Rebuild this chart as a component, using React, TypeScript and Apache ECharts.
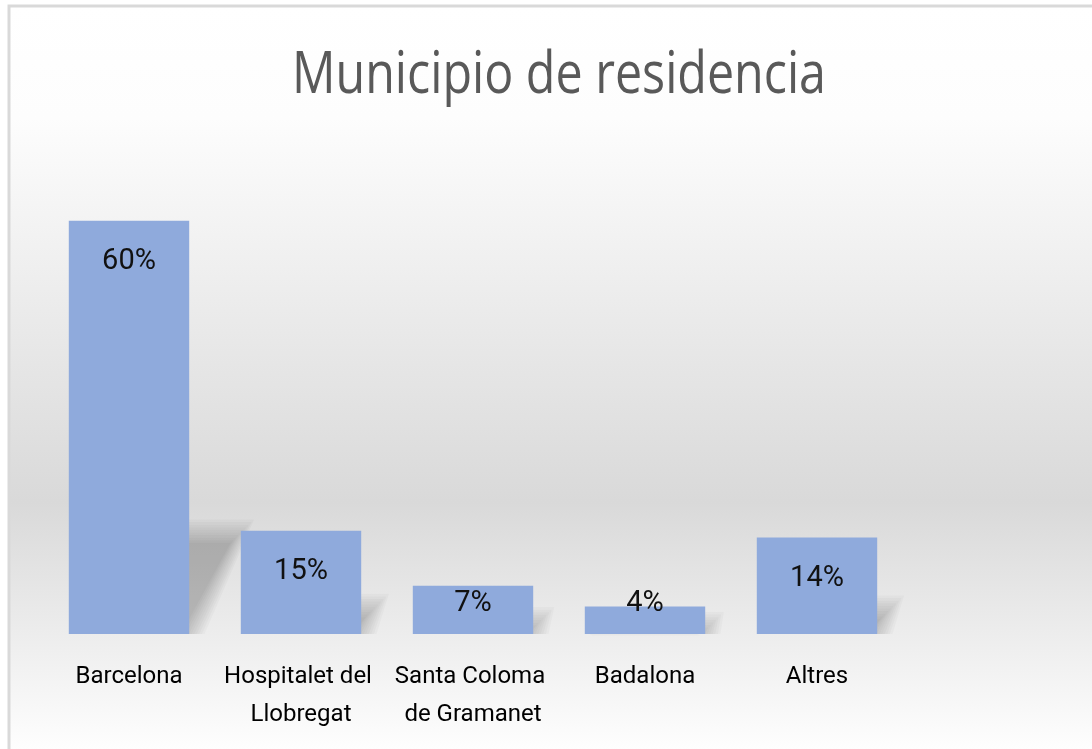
import React, { useEffect, useRef } from "react";
import * as echarts from "echarts";

const titleText = "Municipio de residencia";
const categories = [
  "Barcelona",
  "Hospitalet del Llobregat",
  "Santa Coloma de Gramanet",
  "Badalona",
  "Altres",
];
const values = [60, 15, 7, 4, 14];
const yMax = 70;

export default function App() {
  const ref = useRef<HTMLDivElement>(null);

  useEffect(() => {
    if (!ref.current) return;
    const chart = echarts.init(ref.current, null, { renderer: "svg" });

    const titleSize = 58;
    const titleFamily = '"Open Sans", "Noto Sans", sans-serif';
    let scaleX = 1;
    try {
      const ctx = document.createElement("canvas").getContext("2d");
      if (ctx) {
        ctx.font = `${titleSize}px ${titleFamily}`;
        const w = ctx.measureText(titleText).width;
        if (w > 0) scaleX = 534 / w;
      }
    } catch (e) {}

    const bg = new echarts.graphic.LinearGradient(0, 0, 0, 1, [
      { offset: 0, color: "#ffffff" },
      { offset: 0.14, color: "#fdfdfd" },
      { offset: 0.62, color: "#d9d9d9" },
      { offset: 0.93, color: "#fefefe" },
      { offset: 1, color: "#ffffff" },
    ]);

    const option: any = {
      animation: false,
      graphic: [
        {
          type: "rect",
          z: -10,
          silent: true,
          shape: { x: 9, y: 6, width: 1200, height: 800 },
          style: { fill: bg, stroke: "#d9d9d9", lineWidth: 3 },
        },
        {
          type: "text",
          x: 559,
          y: 71,
          scaleX: scaleX,
          scaleY: 1,
          style: {
            text: titleText,
            fontSize: titleSize,
            fontFamily: titleFamily,
            fill: "#595959",
            align: "center",
            verticalAlign: "middle",
            textAlign: "center",
            textVerticalAlign: "middle",
          },
        },
      ],
      grid: { left: 43, width: 860, top: 152, height: 482 },
      xAxis: {
        type: "category",
        data: categories,
        axisLine: { show: false },
        axisTick: { show: false },
        axisLabel: {
          interval: 0,
          fontSize: 24,
          fontFamily: "Roboto, sans-serif",
          color: "#000000",
          lineHeight: 38,
          margin: 22,
          width: 168,
          overflow: "break",
        },
      },
      yAxis: {
        type: "value",
        min: 0,
        max: yMax,
        show: false,
        splitLine: { show: false },
      },
      series: [
        {
          id: "shadows",
          type: "custom",
          z: 1,
          silent: true,
          data: values.map((v, i) => [i, v]),
          renderItem: (params: any, api: any) => {
            const idx = api.value(0);
            const v = api.value(1);
            const top = api.coord([idx, v]);
            const base = api.coord([idx, 0]);
            const w = api.size([1, 0])[0] * 0.7;
            const x0 = base[0] - w / 2;
            const x1 = base[0] + w / 2;
            const by = base[1];
            const h = by - top[1];
            const dx = 0.12 * h;
            const dy = 0.24 * h;
            const children: any[] = [];
            const n = 10;
            for (let k = 0; k < n; k++) {
              const e = -8 + k * 2.6;
              children.push({
                type: "polygon",
                shape: {
                  points: [
                    [x0 + 4, by],
                    [x1 + e, by],
                    [x1 + dx + e, by - dy - e],
                    [x0 + 4 + dx, by - dy - e],
                  ],
                },
                style: { fill: "rgba(0,0,0,0.024)" },
              });
            }
            return { type: "group", children };
          },
        },
        {
          id: "bars",
          type: "bar",
          z: 2,
          barCategoryGap: "30%",
          data: values,
          itemStyle: { color: "#8faadc" },
          label: {
            show: true,
            position: "insideTop",
            distance: 24,
            formatter: "{c}%",
            fontSize: 29,
            lineHeight: 29,
            fontFamily: "Roboto, sans-serif",
            color: "#111111",
          },
        },
      ],
    };

    chart.setOption(option);

    const base = chart.convertToPixel({ yAxisIndex: 0 }, 0) as number;
    const data = values.map((v) => {
      const top = chart.convertToPixel({ yAxisIndex: 0 }, v) as number;
      const h = base - top;
      const off = Math.min(38, h - 33);
      return { value: v, label: { distance: off - 14.5 } };
    });
    chart.setOption({ series: [{ id: "bars", data }] });

    return () => {
      chart.dispose();
    };
  }, []);

  return (
    <div
      ref={ref}
      style={{ position: "fixed", left: 0, top: 0, width: 1092, height: 749 }}
    />
  );
}
